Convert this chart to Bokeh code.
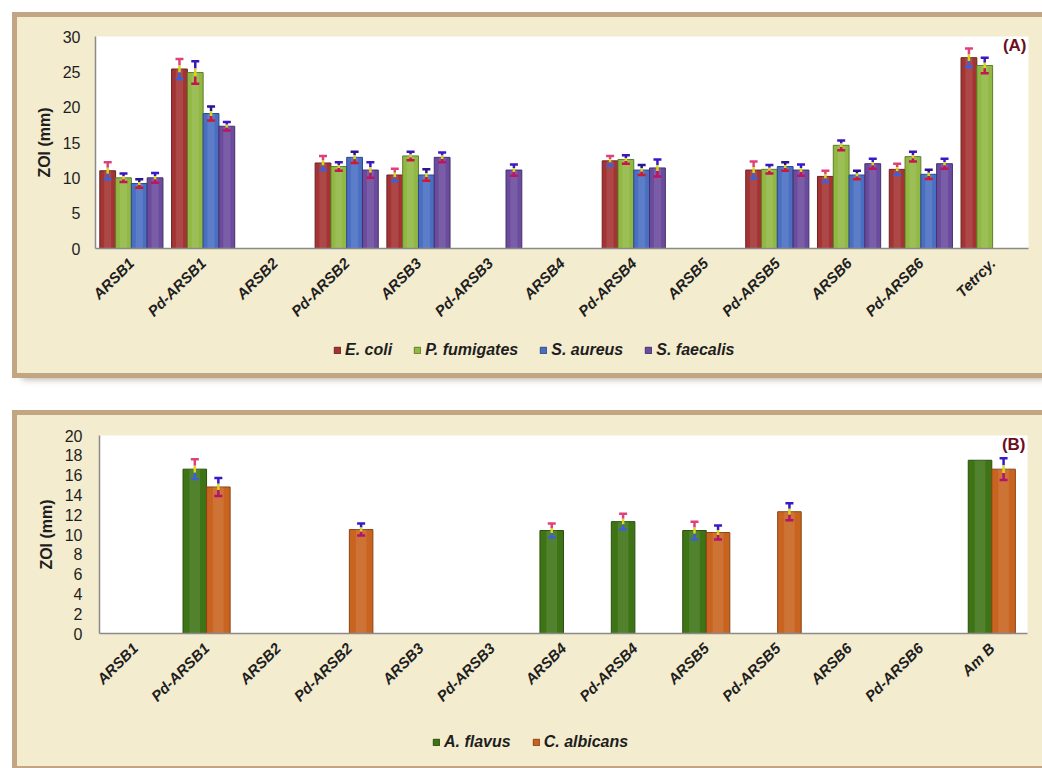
import math
from bokeh.plotting import figure
from bokeh.models import (FactorRange, ColumnDataSource, Legend, LegendItem, Label,
                          Whisker, TeeHead, Range1d, SingleIntervalTicker)
from bokeh.transform import dodge
from bokeh.layouts import column
from bokeh.embed import file_html
from bokeh.resources import INLINE

# ---------------- data ----------------
cats_A = ["ARSB1", "Pd-ARSB1", "ARSB2", "Pd-ARSB2", "ARSB3", "Pd-ARSB3", "ARSB4",
          "Pd-ARSB4", "ARSB5", "Pd-ARSB5", "ARSB6", "Pd-ARSB6", "Tetrcy."]
ecoli = [11.0, 25.4, None, 12.1, 10.4, None, None, 12.4, None, 11.1, 10.2, 11.2, 27.0]
ecoli_err = [1.2, 1.4, None, 1.0, 0.9, None, None, 0.7, None, 1.2, 0.8, 0.8, 1.3]
pfum = [10.0, 24.9, None, 11.6, 13.1, None, None, 12.6, None, 11.2, 14.6, 13.0, 25.9]
pfum_err = [0.6, 1.6, None, 0.6, 0.6, None, None, 0.6, None, 0.6, 0.7, 0.7, 1.1]
saur = [9.2, 19.1, None, 12.9, 10.4, None, None, 11.1, None, 11.6, 10.4, 10.5, None]
saur_err = [0.6, 1.0, None, 0.8, 0.8, None, None, 0.7, None, 0.6, 0.6, 0.65, None]
sfae = [10.0, 17.3, None, 11.1, 12.9, 11.1, None, 11.4, None, 11.1, 12.0, 12.0, None]
sfae_err = [0.7, 0.6, None, 1.1, 0.7, 0.8, None, 1.2, None, 0.8, 0.7, 0.7, None]
names_A = ["E. coli", "P. fumigates", "S. aureus", "S. faecalis"]

cats_B = ["ARSB1", "Pd-ARSB1", "ARSB2", "Pd-ARSB2", "ARSB3", "Pd-ARSB3", "ARSB4",
          "Pd-ARSB4", "ARSB5", "Pd-ARSB5", "ARSB6", "Pd-ARSB6", "Am B"]
aflav = [None, 16.6, None, None, None, None, 10.4, 11.3, 10.4, None, None, None, 17.5]
aflav_err = [None, 1.0, None, None, None, None, 0.7, 0.8, 0.9, None, None, None, None]
calb = [None, 14.8, None, 10.5, None, None, None, None, 10.2, 12.3, None, None, 16.6]
calb_err = [None, 0.9, None, 0.6, None, None, None, None, 0.7, 0.85, None, None, 1.1]
names_B = ["A. flavus", "C. albicans"]

FONT = "Liberation Sans"
BEIGE = "#F4ECCF"
FRAME = "#C2A583"
TXT = "#1e1e1e"
W = 1025


def build_panel(cats, series, ymax, step, mins, ystand, tag, height,
                leg_height, leg_xy, top_margin):
    ml, mt, mr, mb = mins
    p = figure(x_range=FactorRange(factors=cats, range_padding=0),
               y_range=Range1d(0, ymax), width=W, height=height,
               output_backend="svg", toolbar_location=None,
               min_border_left=ml, min_border_top=mt, min_border_right=mr,
               min_border_bottom=mb, border_fill_color=BEIGE,
               background_fill_color="white", outline_line_color=None)
    p.xgrid.grid_line_color = None
    p.ygrid.grid_line_color = None
    p.yaxis.ticker = SingleIntervalTicker(interval=step)
    for ax in (p.xaxis[0], p.yaxis[0]):
        ax.axis_line_color = "#8a8a8a"
        ax.axis_line_width = 1.5
        ax.major_tick_line_color = None
        ax.minor_tick_line_color = None
        ax.major_tick_out = 0
        ax.major_tick_in = 0
        ax.minor_tick_out = 0
        ax.major_label_text_color = TXT
        ax.major_label_text_font = FONT
    p.yaxis.major_label_text_font_size = "16px"
    p.yaxis.major_label_standoff = ystand
    p.yaxis.axis_label = "ZOI (mm)"
    p.yaxis.axis_label_text_font = FONT
    p.yaxis.axis_label_text_font_size = "16px"
    p.yaxis.axis_label_text_font_style = "bold"
    p.yaxis.axis_label_text_color = TXT
    p.yaxis.axis_label_standoff = 7
    p.xaxis.major_label_orientation = math.radians(45)
    p.xaxis.major_label_text_font_size = "15px"
    p.xaxis.major_label_text_font_style = "bold italic"
    p.xaxis.major_label_standoff = 12

    # legend strip (a second, axis-less canvas directly under the chart;
    # the column aligns its frame with the chart's frame)
    lg = figure(width=W, height=leg_height, x_range=Range1d(0, 1), y_range=Range1d(0, 1),
                output_backend="svg", toolbar_location=None,
                x_axis_location=None, y_axis_location=None, min_border=0,
                background_fill_alpha=0, border_fill_color=BEIGE,
                outline_line_color=None)
    lg.xgrid.grid_line_color = None
    lg.ygrid.grid_line_color = None

    items = []
    for s in series:
        idx = [i for i, v in enumerate(s["vals"]) if v is not None]
        src = ColumnDataSource(dict(x=[cats[i] for i in idx],
                                    top=[s["vals"][i] for i in idx]))
        xs = dodge("x", s["off"], range=p.x_range)
        p.vbar(x=xs, top="top", width=s["w"], source=src,
               fill_color=s["color"], line_color=s["edge"], line_width=1)
        p.vbar(x=xs, top="top", width=s["w"] * 0.45, source=src,
               fill_color="white", fill_alpha=0.10, line_color=None)
        # legend key glyph: same style, zero-size stand-in so the key can be drawn
        key = lg.vbar(x=[0], top=[0], width=0, fill_color=s["color"],
                      line_color=s["edge"], line_width=1)
        items.append(LegendItem(label=s["name"], renderers=[key]))

        eidx = [i for i in idx if s["errs"][i] is not None]
        v = [s["vals"][i] for i in eidx]
        e = [s["errs"][i] for i in eidx]
        esrc = ColumnDataSource(dict(
            x=[cats[i] for i in eidx],
            upper=[a + b for a, b in zip(v, e)],
            hi=[a + b * 0.35 for a, b in zip(v, e)],
            lo=[a - b * 0.35 for a, b in zip(v, e)],
            lower=[a - b for a, b in zip(v, e)]))
        p.add_layout(Whisker(base=xs, upper="upper", lower="hi", source=esrc,
                             line_color=s["etop"], line_width=2.5,
                             upper_head=TeeHead(size=8, line_color=s["etop"], line_width=2.5),
                             lower_head=None, level="overlay"))
        p.add_layout(Whisker(base=xs, upper="hi", lower="lo", source=esrc,
                             line_color="#d8d820", line_width=2.5,
                             upper_head=None, lower_head=None, level="overlay"))
        p.add_layout(Whisker(base=xs, upper="lo", lower="lower", source=esrc,
                             line_color=s["ebot"], line_width=2.5,
                             lower_head=TeeHead(size=8, line_color=s["ebot"], line_width=2.5),
                             upper_head=None, level="overlay"))

    legend = Legend(items=items, orientation="horizontal", location=leg_xy,
                    glyph_width=8, glyph_height=8, label_standoff=4, spacing=21,
                    padding=0, margin=0, border_line_color=None,
                    background_fill_alpha=0, label_text_font=FONT,
                    label_text_font_size="16px", label_text_font_style="bold italic",
                    label_text_color=TXT, label_height=16)
    lg.add_layout(legend, "center")

    fw = W - ml - mr
    fh = height - mt - mb
    p.add_layout(Label(x=fw - 2, y=fh - 9, x_units="screen", y_units="screen",
                       text=tag, text_font=FONT, text_font_size="17px",
                       text_font_style="bold", text_color="#6B0F1F",
                       text_baseline="middle", text_align="right"))

    return column(p, lg, spacing=0, margin=(top_margin, 0, 0, 17),
                  styles={"outline": f"5px solid {FRAME}",
                          "background-color": BEIGE,
                          "box-shadow": "5px 6px 7px rgba(90,70,50,0.45)"})


series_A = [
    dict(name=names_A[0], vals=ecoli, errs=ecoli_err, color="#A33433", edge="#6e2222",
         off=-0.33, w=0.22, etop="#e0407a", ebot="#3d5fd8"),
    dict(name=names_A[1], vals=pfum, errs=pfum_err, color="#90B843", edge="#5f7d2a",
         off=-0.11, w=0.22, etop="#3a18b8", ebot="#c81450"),
    dict(name=names_A[2], vals=saur, errs=saur_err, color="#4A6FC2", edge="#2e4a8a",
         off=0.11, w=0.22, etop="#2a1490", ebot="#d01830"),
    dict(name=names_A[3], vals=sfae, errs=sfae_err, color="#6B4B9E", edge="#463068",
         off=0.33, w=0.22, etop="#3a18c8", ebot="#c01460"),
]
series_B = [
    dict(name=names_B[0], vals=aflav, errs=aflav_err, color="#3F7416", edge="#2a4f0e",
         off=-0.165, w=0.33, etop="#e0407a", ebot="#3d5fd8"),
    dict(name=names_B[1], vals=calb, errs=calb_err, color="#C96420", edge="#8a4416",
         off=0.165, w=0.33, etop="#3a18c8", ebot="#b01470"),
]

panA = build_panel(cats_A, series_A, 30, 5, (78, 19, 14, 85), 15, "(A)", 316,
                   40, (238, 14), 17)
panB = build_panel(cats_B, series_B, 20, 2, (82, 20, 15, 92), 17, "(B)", 310,
                   41, (333, 15), 42)

layout = column(panA, panB, spacing=0)
open("out.html", "w").write(file_html(layout, INLINE))
